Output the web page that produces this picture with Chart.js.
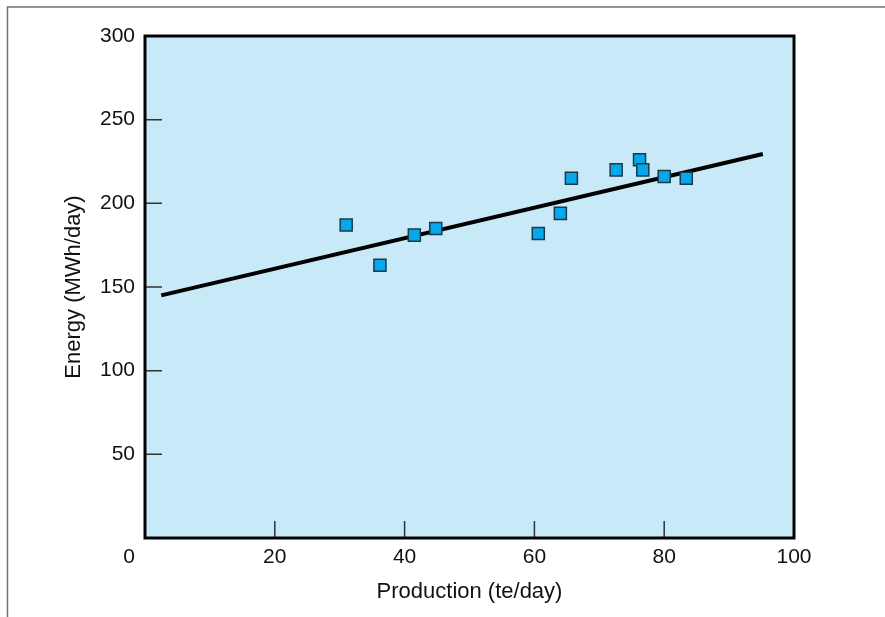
<!DOCTYPE html>
<html>
<head>
<meta charset="utf-8">
<script src="https://cdn.jsdelivr.net/npm/chart.js@4/dist/chart.umd.min.js"></script>
<style>
  html, body { margin: 0; padding: 0; background: #fff; }
  #wrap { width: 885px; height: 617px; }
</style>
</head>
<body>
<div id="wrap"><canvas id="energyChart" width="885" height="617"></canvas></div>
<script>
    // measured points, production (te/day) vs energy (MWh/day)
    const production = [31, 36.2, 41.5, 44.8, 60.6, 64, 65.7, 72.6, 76.2, 76.7, 80, 83.4];
    const energy = [187, 163, 181, 185, 182, 194, 215, 220, 226, 220, 216, 215];
    // fitted line end points
    const fitX = [2.5, 95.2];
    const fitY = [145, 229.5];
    const xTicks = [0, 20, 40, 60, 80, 100];
    const yTicks = [0, 50, 100, 150, 200, 250, 300];

    const font = "'Liberation Sans', Arial, Helvetica, sans-serif";

    const framePlugin = {
        id: 'frame',
        beforeDraw(chart) {
            const c = chart.ctx;
            const a = chart.chartArea;
            c.save();
            // outer frame (left + top only)
            c.strokeStyle = '#707070';
            c.lineWidth = 1.5;
            c.beginPath();
            c.moveTo(7.5, 617);
            c.lineTo(7.5, 7);
            c.lineTo(885, 7);
            c.stroke();
            // plot background
            c.fillStyle = '#C7E9F8';
            c.fillRect(a.left, a.top, a.right - a.left, a.bottom - a.top);
            // inward ticks
            c.strokeStyle = '#333';
            c.lineWidth = 1.5;
            c.beginPath();
            xTicks.forEach(v => {
                if (v === 0 || v === 100) return;
                const px = chart.scales.x.getPixelForValue(v);
                c.moveTo(px, a.bottom);
                c.lineTo(px, a.bottom - 17);
            });
            yTicks.forEach(v => {
                if (v === 0 || v === 300) return;
                const py = chart.scales.y.getPixelForValue(v);
                c.moveTo(a.left, py);
                c.lineTo(a.left + 17, py);
            });
            c.stroke();
            c.restore();
        },
        afterDraw(chart) {
            const c = chart.ctx;
            const a = chart.chartArea;
            c.save();
            c.strokeStyle = '#000';
            c.lineWidth = 3;
            c.strokeRect(a.left, a.top, a.right - a.left, a.bottom - a.top);
            // shared origin label
            c.fillStyle = '#111';
            c.font = '21px ' + font;
            c.textAlign = 'right';
            c.textBaseline = 'middle';
            c.fillText('0', a.left - 10, a.bottom + 19);
            c.restore();
        }
    };

    const ctx = document.getElementById('energyChart').getContext('2d');
    const energyChart = new Chart(ctx, {
        data: {
            datasets: [{
                type: 'scatter',
                label: 'Measured',
                data: production.map((x, i) => ({ x: x, y: energy[i] })),
                pointStyle: 'rect',
                pointRadius: 8.5,
                pointHoverRadius: 8.5,
                backgroundColor: '#05A8EA',
                borderColor: '#1C3A4D',
                borderWidth: 1.5,
                order: 0
            }, {
                type: 'line',
                label: 'Fit',
                data: fitX.map((x, i) => ({ x: x, y: fitY[i] })),
                borderColor: '#000',
                borderWidth: 4,
                pointRadius: 0,
                fill: false,
                order: 1
            }]
        },
        options: {
            responsive: false,
            animation: false,
            layout: {
                padding: { left: 0, top: 36, right: 91, bottom: 0 }
            },
            plugins: {
                legend: { display: false },
                tooltip: { enabled: false }
            },
            scales: {
                x: {
                    type: 'linear',
                    min: 0,
                    max: 100,
                    afterFit: s => { s.height = 79; },
                    afterBuildTicks: s => { s.ticks = xTicks.map(v => ({ value: v })); },
                    grid: { display: false, drawTicks: false },
                    border: { display: false },
                    ticks: {
                        padding: 7,
                        color: '#111',
                        font: { family: font, size: 21 },
                        callback: v => v === 0 ? '' : v
                    },
                    title: {
                        display: true,
                        text: 'Production (te/day)',
                        color: '#111',
                        font: { family: font, size: 22 },
                        padding: { top: 0, bottom: 12 }
                    }
                },
                y: {
                    type: 'linear',
                    min: 0,
                    max: 300,
                    afterFit: s => { s.width = 145; },
                    afterBuildTicks: s => { s.ticks = yTicks.map(v => ({ value: v })); },
                    grid: { display: false, drawTicks: false },
                    border: { display: false },
                    ticks: {
                        padding: 10,
                        color: '#111',
                        font: { family: font, size: 21 },
                        callback: v => v === 0 ? '' : v
                    },
                    title: {
                        display: true,
                        text: 'Energy (MWh/day)',
                        color: '#111',
                        font: { family: font, size: 22 },
                        padding: { top: 61, bottom: 0 }
                    }
                }
            }
        },
        plugins: [framePlugin]
    });
</script>
</body>
</html>
